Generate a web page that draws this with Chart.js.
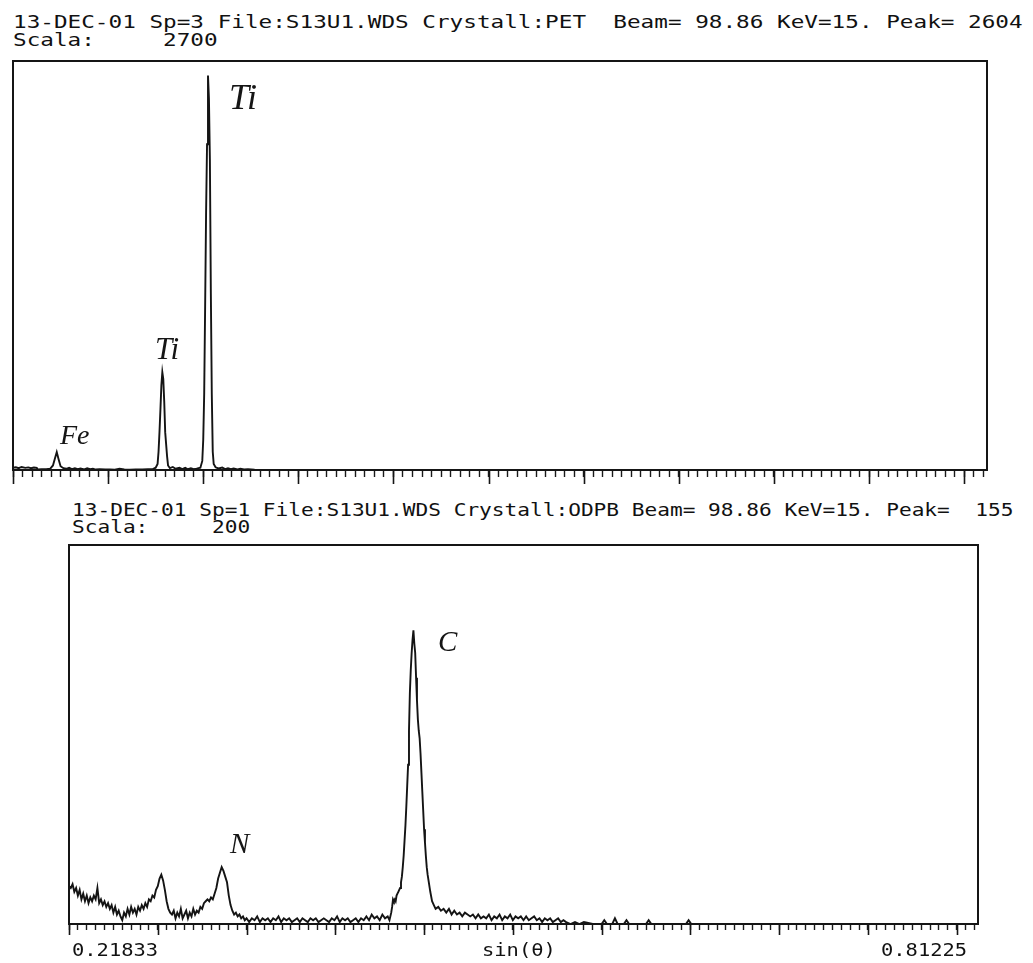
<!DOCTYPE html>
<html><head><meta charset="utf-8">
<script src="https://cdn.jsdelivr.net/npm/chart.js@4.4.1/dist/chart.umd.min.js"></script>
<style>
html,body{margin:0;padding:0;background:#fff;}
body{width:1033px;height:963px;position:relative;overflow:hidden;}
canvas{position:absolute;left:0;}
.t{position:absolute;white-space:pre;font-family:'DejaVu Sans Mono',monospace;color:#111;transform-origin:0 0;line-height:1;}
.h{position:absolute;white-space:pre;font-family:'Liberation Serif',serif;font-style:italic;color:#151515;line-height:1;}
</style></head><body>
<canvas id="c1" width="1033" height="440" style="top:55px"></canvas>
<canvas id="c2" width="1033" height="410" style="top:540px"></canvas>
<div id="txt"></div>
<script>
// ---------------- DATA ----------------
const channelCount = 1024;           // x axis runs over detector channels
const minorTickStep = 10;
const majorTickStep = 100;

// Top spectrum (PET crystal), scale 2700
const topScale = 2700;
const topChannels = [0,3,6,9,13,16,19,22,25,26,
  30,35,39,42,44,46,48,50,53,56,
  59,62,65,68,71,75,78,81,84,87,
  91,97,102,107,112,117,123,129,136,142,
  147,150,152,153,154,155,156,157,158,159,
  160,162,163,165,168,171,175,178,181,184,
  187,190,193,197,199,200,201,202,203,204,
  205,206,207,208,209,210,211,213,216,220,
  223,226,229,232,236,239,243,247,254,265,
  1024];
const topCounts = [15,18,12,20,14,17,12,16,14,4,
  6,5,8,30,75,118,70,25,12,8,
  14,6,12,5,10,4,12,6,8,3,
  5,3,4,2,8,3,2,4,3,5,
  6,15,40,120,250,400,560,645,600,450,
  250,90,30,12,20,8,15,6,14,5,
  12,6,9,15,60,200,500,1080,1700,2150,
  2604,2450,2050,1170,500,120,40,18,10,16,
  6,12,5,10,4,8,3,5,2,0,
  0];

// Bottom spectrum (ODPB crystal), scale 200
const bottomScale = 200;
const bottomChannels = [
  0,2,4,6,8,10,12,14,16,18,20,22,24,26,28,30,32,34,36,38,
  40,42,44,46,48,50,52,54,56,58,60,62,64,66,68,70,72,74,76,78,
  80,82,84,86,88,90,92,94,96,98,100,102,104,106,108,110,112,114,116,118,
  120,122,124,126,128,130,132,134,136,138,140,142,144,146,148,150,152,154,156,158,
  160,162,164,166,168,170,172,174,176,178,180,182,184,186,188,190,192,194,196,198,200,
  203,206,209,212,215,218,221,224,227,230,233,236,239,242,245,248,251,254,257,260,
  263,266,269,272,275,278,281,284,287,290,293,296,299,302,305,308,311,314,317,320,
  323,326,329,332,335,338,341,344,347,350,353,356,
  359,361,363,364,365,366,367,368,369,370,371,372,373,374,375,376,377,378,379,380,
  381,382,383,384,385,386,387,388,389,390,391,392,393,394,395,396,397,398,399,400,
  401,402,403,404,405,407,409,411,413,
  416,419,422,425,428,431,434,437,440,443,446,449,452,455,458,461,464,467,470,473,
  476,479,482,485,488,491,494,497,500,503,506,509,512,515,518,521,524,527,530,533,
  536,539,542,545,548,551,554,557,560,
  565,570,575,580,590,600,603,606,612,615,618,625,628,631,640,650,653,656,695,698,701,1024];
const bottomCounts = [
  20,19,21,17,19,15,18,13,16,12,15,11,14,12,15,13,19,11,13,10,
  12,9,11,8,10,6,9,5,7,4,2,6,4,8,5,9,6,8,5,9,
  7,10,8,11,9,13,12,15,14,18,20,24,26,23,18,12,8,6,5,7,
  3,6,4,8,3,5,7,3,6,4,8,5,7,6,9,8,11,12,13,12,
  14,13,16,19,24,27,30,28,25,22,15,10,7,5,6,4,5,3,4,2,3,
  1,3,2,4,1,3,2,3,1,3,2,4,1,3,2,3,1,2,3,1,
  3,2,1,3,2,3,1,2,3,2,1,3,2,4,1,3,2,3,1,2,
  3,1,3,2,4,2,5,3,4,2,5,3,
  4,2,6,9,13,12,13,12,15,16,17,18,19,22,25,30,36,44,52,62,
  73,84,102,122,134,143,150,155,148,143,130,118,108,102,98,90,80,70,60,50,
  43,36,30,26,23,17,12,10,8,
  9,7,8,6,8,5,7,5,6,4,6,5,4,5,3,5,3,4,3,5,
  2,4,3,5,2,4,3,5,2,4,3,4,2,4,2,3,4,2,3,1,
  3,2,3,1,2,3,1,2,1,
  0,1,0,1,0,0,2,0,0,3,0,0,2,0,0,0,2,0,0,2,0,0];

// Texts
const topHeader = ['13-DEC-01 Sp=3 File:S13U1.WDS Crystall:PET  Beam= 98.86 KeV=15. Peak= 2604',
                   'Scala:     2700'];
const bottomHeader = ['13-DEC-01 Sp=1 File:S13U1.WDS Crystall:ODPB Beam= 98.86 KeV=15. Peak=  155',
                      'Scala:     200'];
const bottomAxisLabels = ['0.21833', 'sin(θ)', '0.81225'];
const peakLabels = ['Ti', 'Ti', 'Fe', 'C', 'N'];

// ---------------- TEXT LAYOUT ----------------
const textItems = [
  {s: topHeader[0], l: 13, t: 13, f: 18, k: 1.259, c: 't'},
  {s: topHeader[1], l: 13, t: 31, f: 18, k: 1.259, c: 't'},
  {s: bottomHeader[0], l: 72, t: 502, f: 17, k: 1.243, c: 't'},
  {s: bottomHeader[1], l: 72, t: 519, f: 17, k: 1.243, c: 't'},
  {s: bottomAxisLabels[0], l: 72, t: 941, f: 18, k: 1.135, c: 't'},
  {s: bottomAxisLabels[1], l: 482, t: 941, f: 18, k: 1.135, c: 't'},
  {s: bottomAxisLabels[2], l: 881, t: 941, f: 18, k: 1.135, c: 't'},
  {s: peakLabels[0], l: 229, t: 79, f: 36, c: 'h'},
  {s: peakLabels[1], l: 155, t: 333, f: 31, c: 'h'},
  {s: peakLabels[2], l: 60, t: 421, f: 28, c: 'h'},
  {s: peakLabels[3], l: 438, t: 627, f: 29, c: 'h'},
  {s: peakLabels[4], l: 230, t: 829, f: 29, c: 'h'}
];
const txt = document.getElementById('txt');
for (const it of textItems) {
  const d = document.createElement('div');
  d.className = it.c;
  d.textContent = it.s;
  d.style.left = it.l + 'px';
  d.style.top = it.t + 'px';
  d.style.fontSize = it.f + 'px';
  if (it.k) d.style.transform = 'scaleX(' + it.k + ')';
  txt.appendChild(d);
}

// ---------------- CHARTS ----------------
const minorTicks = [];
for (let v = 0; v <= channelCount; v += minorTickStep) minorTicks.push(v);

const framePlugin = {
  id: 'frame',
  afterDraw(chart, args, opts) {
    const {ctx, chartArea: a} = chart;
    const x = chart.scales.x;
    ctx.save();
    ctx.strokeStyle = '#151515';
    ctx.lineWidth = 2;
    ctx.strokeRect(a.left, a.top, a.right - a.left, a.bottom - a.top);
    ctx.lineWidth = 1.6;
    ctx.beginPath();
    for (const t of x.ticks) {
      if (t.value % majorTickStep === 0) {
        const px = Math.round(x.getPixelForValue(t.value)) + 0.5;
        ctx.moveTo(px, a.bottom);
        ctx.lineTo(px, a.bottom + opts.majorLen);
      }
    }
    ctx.stroke();
    ctx.restore();
  }
};

function makeChart(id, xs, ys, yMax, pad, minorLen, majorLen) {
  const pts = xs.map((x, i) => ({x: x, y: ys[i]}));
  return new Chart(document.getElementById(id), {
    type: 'line',
    data: {datasets: [{data: pts, borderColor: '#141414', borderWidth: 1.9,
      pointRadius: 0, tension: 0, fill: false}]},
    options: {
      responsive: false, animation: false, events: [],
      layout: {padding: pad},
      plugins: {legend: {display: false}, tooltip: {enabled: false}, frame: {majorLen: majorLen}},
      scales: {
        x: {type: 'linear', min: 0, max: channelCount,
          afterBuildTicks: s => { s.ticks = minorTicks.map(v => ({value: v})); },
          ticks: {display: false, autoSkip: false},
          grid: {drawOnChartArea: false, drawTicks: true, tickLength: minorLen,
                 tickWidth: 1.4, tickColor: '#1a1a1a'},
          border: {display: true, color: '#151515', width: 2}},
        y: {display: false, min: 0, max: yMax}
      }
    },
    plugins: [framePlugin]
  });
}

makeChart('c1', topChannels, topCounts, topScale, {top: 6, bottom: 18, left: 13, right: 46}, 7, 14);
makeChart('c2', bottomChannels, bottomCounts, bottomScale, {top: 5, bottom: 20, left: 69, right: 55}, 6, 11);
</script>
</body></html>
